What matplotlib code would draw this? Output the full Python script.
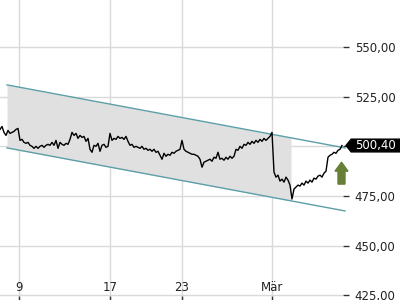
import numpy as np
import matplotlib
matplotlib.use("Agg")
import matplotlib.pyplot as plt
from matplotlib.patches import Polygon
from matplotlib.transforms import blended_transform_factory

# price series, one value per time step
price = [
    508.5, 510, 507, 505.5, 508, 506.5, 507, 507.5, 508.5, 509,
    503, 503.5, 502, 501.5, 502, 500.5, 500, 499, 500, 499,
    500, 500.5, 499.5, 500.5, 501, 500.5, 502, 500.5, 503, 499,
    502, 501, 500.5, 501.5, 501, 503.5, 507, 505.5, 506.5, 504,
    505.5, 504.5, 505, 502.5, 504, 498.5, 497, 500.5, 500, 501.5,
    497.5, 500.5, 501, 499.5, 500, 506.5, 503, 504, 503.5, 505,
    504, 504.5, 503.5, 505, 502.5, 500.5, 501, 499.5, 500, 499.5,
    499, 500, 498.5, 499, 498, 498.5, 497.5, 498.5, 497, 497.5,
    495.5, 493.5, 496.5, 495, 496, 495.5, 497, 496.5, 497.5, 498,
    498.5, 503, 498.5, 497.5, 497, 496.5, 496, 496, 495.5, 495,
    493.5, 489.5, 492, 492.5, 493, 493.5, 492.5, 494.5, 494, 497,
    493.5, 494, 493, 494.5, 493.5, 495, 494, 495, 498.5, 498,
    500, 499, 501, 500.5, 502, 501, 502.5, 501.5, 503, 502,
    503.5, 502.5, 504, 503, 504, 505, 507, 487, 484.5, 485.5,
    482.5, 483.5, 482, 484.5, 483, 480.5, 473.5, 478.5, 479.5, 480.5,
    480, 481.5, 480.5, 482.5, 481.5, 483, 482, 484, 483.5, 485,
    485.5, 484.5, 486.5, 487.5, 494.5, 495.5, 496, 497, 496.5, 498,
    498.5, 500.4,
]
last_price = 500.40

# trend channel (start / end step, upper and lower bound)
channel_x = [3.5, 172.5]
channel_top = [530.9, 499.2]
channel_bot = [499.2, 467.5]
channel_fill_end = 145.5

tick_pos = [9.5, 55, 91, 136]
tick_labels = ["9", "17", "23", "Mär"]
y_ticks = [425, 450, 475, 500, 525, 550]

x = np.arange(len(price))

fig = plt.figure(figsize=(4, 3), dpi=100)
ax = fig.add_axes([0, 0, 343 / 400, 1])
ax.set_xlim(0, 171.5)
ax.set_ylim(422.7, 573.6)

# shaded channel
fx = np.linspace(channel_x[0], channel_fill_end, 50)
ax.fill_between(fx, np.interp(fx, channel_x, channel_bot), np.interp(fx, channel_x, channel_top),
                color="#e0e0e0", lw=0, zorder=1)
ax.plot(channel_x, channel_top, color="#5b9fa8", lw=1, clip_on=False, zorder=3)
ax.plot(channel_x, channel_bot, color="#5b9fa8", lw=1, clip_on=False, zorder=3)

ax.plot(x, price, color="black", lw=1.0, zorder=4)

# grid
ax.set_xticks(tick_pos)
ax.set_xticklabels(tick_labels)
ax.set_yticks(y_ticks)
# the 500 label sits under the last-price tag
ax.set_yticklabels(["" if v == 500 else f"{v:.2f}".replace(".", ",") for v in y_ticks])
ax.grid(True, color="#d9d9d9", lw=1)
ax.set_axisbelow(True)
for s in ax.spines.values():
    s.set_visible(False)

ax.yaxis.tick_right()
ax.tick_params(axis="y", direction="out", length=4.5, width=1, color="#333333",
               labelsize=8.5, labelcolor="#222222", pad=4)
ax.tick_params(axis="x", direction="in", length=3, width=1, color="#333333",
               labelsize=8.5, labelcolor="#222222", pad=-14)

# up arrow
ax.arrow(170.75, 481, 0, 11, width=3.5, head_width=6.5, head_length=4.5,
         length_includes_head=True, color="#677f37", clip_on=False, zorder=6)

# last price tag
tr = blended_transform_factory(fig.transFigure, ax.transData)
tag = Polygon([(0.865, last_price), (0.878, last_price + 3.2), (1.0, last_price + 3.2),
               (1.0, last_price - 3.2), (0.878, last_price - 3.2)],
              closed=True, transform=tr, color="black", clip_on=False, zorder=10)
ax.add_patch(tag)
ax.text(0.94, last_price, f"{last_price:.2f}".replace(".", ","), transform=tr,
        color="white", fontsize=8.5, ha="center", va="center", zorder=11, clip_on=False)

fig.savefig("out.png", dpi=100)
